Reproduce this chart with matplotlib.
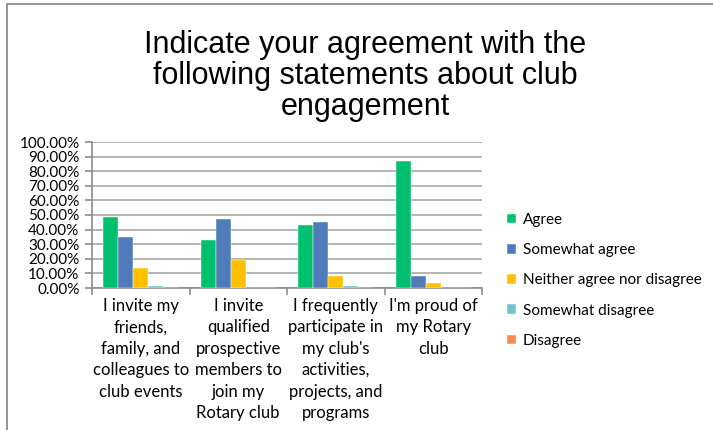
import numpy as np
import matplotlib
matplotlib.use("Agg")
import matplotlib.pyplot as plt
from matplotlib.ticker import PercentFormatter, FixedLocator
from matplotlib.patches import Rectangle

# data
categories = ["I invite my\nfriends,\nfamily, and\ncolleagues to\nclub events",
              "I invite\nqualified\nprospective\nmembers to\njoin my\nRotary club",
              "I frequently\nparticipate in\nmy club's\nactivities,\nprojects, and\nprograms",
              "I'm proud of\nmy Rotary\nclub"]
series = ["Agree", "Somewhat agree", "Neither agree nor disagree",
          "Somewhat disagree", "Disagree"]
agree = [48.4, 32.9, 43.2, 87.2]
somewhat_agree = [34.7, 47.0, 45.0, 8.4]
neither = [13.9, 19.2, 8.4, 3.4]
somewhat_disagree = [1.6, 0.0, 1.4, 0.0]
disagree = [0.0, 0.0, 0.0, 0.0]
colors = ["#00C06F", "#4F7CB8", "#FFC000", "#6CC6CC", "#FF8A4C"]

values = [agree, somewhat_agree, neither, somewhat_disagree, disagree]

label_font = "Lato"

fig = plt.figure(figsize=(7.13, 4.3), dpi=100)
ax = fig.add_axes([92/713, 1-288/430, (482-92)/713, (288-142)/430])

# chart border
fig.patches.append(Rectangle((7/713, -0.01), 1.0, 1-4/430+0.01, transform=fig.transFigure,
                             fill=False, edgecolor="#8C8C8C", linewidth=1.3))

x = np.arange(len(categories))
w = 0.154
for i, (name, vals) in enumerate(zip(series, values)):
    off = (i - 2) * w
    ax.bar(x + off, vals, w, color=colors[i], edgecolor="white", linewidth=0.3,
           label=name, zorder=3)

ax.set_xlim(-0.5, len(categories) - 0.5)
ax.set_ylim(0, 100)
ax.set_yticks(np.arange(0, 101, 10))
ax.yaxis.set_major_formatter(PercentFormatter(decimals=2))
ax.yaxis.grid(True, color="#B4B4B4", linewidth=1.4, zorder=0)
ax.set_axisbelow(True)

ax.set_xticks(x)
ax.set_xticklabels(categories, fontsize=12, family=label_font, linespacing=1.42)
ax.xaxis.set_minor_locator(FixedLocator(np.arange(-0.5, len(categories), 1.0)))
ax.tick_params(axis="x", which="major", length=0, pad=7)
ax.tick_params(axis="x", which="minor", length=5, color="#8C8C8C", width=1.2)
ax.tick_params(axis="y", length=5, color="#8C8C8C", width=1.2, pad=4)
for t in ax.get_yticklabels():
    t.set_fontsize(11)
    t.set_family(label_font)

for s in ["top", "right"]:
    ax.spines[s].set_visible(False)
ax.spines["left"].set_color("#8C8C8C")
ax.spines["left"].set_linewidth(1.2)
ax.spines["bottom"].set_color("#8C8C8C")
ax.spines["bottom"].set_linewidth(1.2)

fig.text(365/713, 1-76/430, "Indicate your agreement with the\nfollowing statements about club\nengagement",
         ha="center", va="center", fontsize=22, family="Liberation Sans", linespacing=1.04)

ax.legend(loc="upper left", bbox_to_anchor=(507/713, 1-213/430), bbox_transform=fig.transFigure,
          frameon=False, prop={"family": label_font, "size": 11},
          handlelength=0.6, handleheight=0.6, handletextpad=0.45, labelspacing=1.06,
          borderaxespad=0, borderpad=0)

fig.savefig("out.png", dpi=100)
